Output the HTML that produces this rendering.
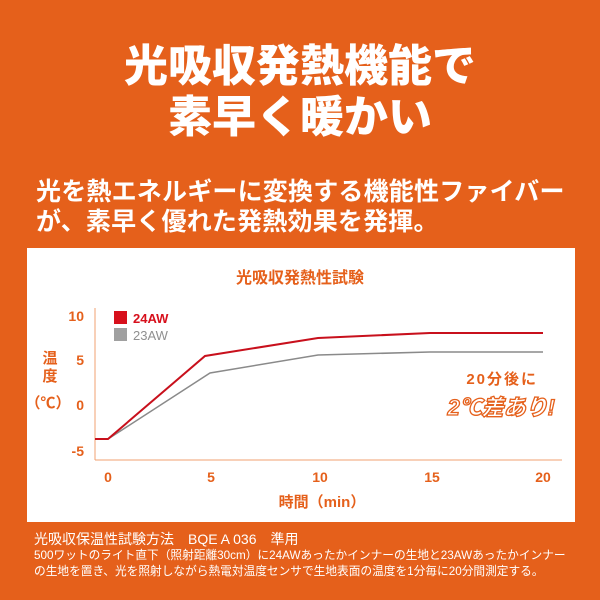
<!DOCTYPE html>
<html><head><meta charset="utf-8"><style>
body{margin:0;width:600px;height:600px;background:#e5601b;overflow:hidden;font-family:"Liberation Sans","Noto Sans CJK JP",sans-serif;position:relative;color:#fff}
.t{position:absolute;left:0;width:600px;text-align:center;font-weight:900;font-size:44px;line-height:1}
.s{position:absolute;left:36px;font-weight:700;font-size:25px;line-height:1;white-space:nowrap;letter-spacing:0.2px}
.panel{position:absolute;left:27px;top:248px;width:548px;height:274px;background:#fff}
.f{position:absolute;left:34px;white-space:nowrap;line-height:1}
</style></head><body>
<div class="t" style="top:45px">光吸収発熱機能で</div>
<div class="t" style="top:96px">素早く暖かい</div>
<div class="s" style="top:180px">光を熱エネルギーに変換する機能性ファイバー</div>
<div class="s" style="top:210px">が、素早く優れた発熱効果を発揮。</div>
<div class="panel"></div>
<svg style="position:absolute;left:0;top:0" width="600" height="600" font-family="Liberation Sans, Noto Sans CJK JP, sans-serif">
<text x="300" y="283" text-anchor="middle" font-size="16" font-weight="700" fill="#e5601b">光吸収発熱性試験</text>
<line x1="95" y1="308" x2="95" y2="460" stroke="#f0a070" stroke-width="1"/>
<line x1="95" y1="460" x2="562" y2="460" stroke="#f0a070" stroke-width="1"/>
<g font-size="14" font-weight="700" fill="#e5601b" text-anchor="end">
<text x="84" y="321">10</text><text x="84" y="365">5</text><text x="84" y="410">0</text><text x="84" y="456">-5</text></g>
<g font-size="14" font-weight="700" fill="#e5601b" text-anchor="middle">
<text x="108" y="482">0</text><text x="211" y="482">5</text><text x="320" y="482">10</text><text x="432" y="482">15</text><text x="543" y="482">20</text>
<text x="322" y="507" font-size="15">時間（min）</text>
<text x="50" y="363" font-size="15">温</text><text x="50" y="381" font-size="15">度</text><text x="48" y="408" font-size="15">（℃）</text></g>
<rect x="114" y="311" width="13" height="13" fill="#d7101c"/>
<text x="133" y="323" font-size="13" font-weight="700" fill="#d7101c">24AW</text>
<rect x="114" y="328" width="13" height="13" fill="#a0a0a0"/>
<text x="133" y="340" font-size="13" fill="#909090">23AW</text>
<polyline points="95,439 108,439 210,373 318,355 430,352 543,352" fill="none" stroke="#8a8a8a" stroke-width="1.5"/>
<polyline points="95,439 108,439 205,356 318,338 430,333 543,333" fill="none" stroke="#c8101c" stroke-width="2"/>
<text x="538" y="384" font-size="15" font-weight="700" fill="#e5601b" text-anchor="end" letter-spacing="2">20分後に</text>
<text x="555" y="415" font-size="22" font-weight="900" fill="#fff" stroke="#e5601b" stroke-width="1.3" text-anchor="end" font-style="italic">2℃差あり!</text>
</svg>
<div class="f" style="top:532px;font-size:14px">光吸収保温性試験方法　BQE A 036　準用</div>
<div class="f" style="top:550px;font-size:11.7px">500ワットのライト直下（照射距離30cm）に24AWあったかインナーの生地と23AWあったかインナー</div>
<div class="f" style="top:566px;font-size:11.7px">の生地を置き、光を照射しながら熱電対温度センサで生地表面の温度を1分毎に20分間測定する。</div>
</body></html>
